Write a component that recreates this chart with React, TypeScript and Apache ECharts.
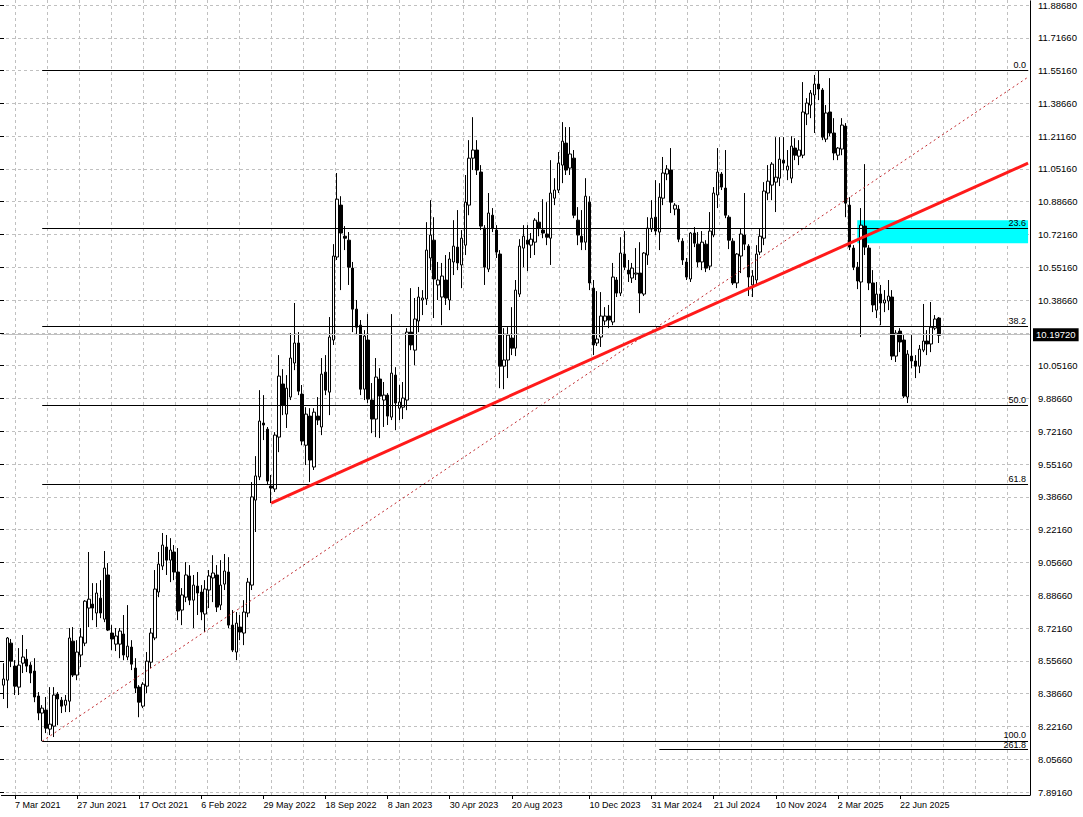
import React, { useEffect, useRef } from "react";
import * as echarts from "echarts";

// ---- weekly OHLC (oldest -> newest) ----
const OPEN = [
  8.431, 8.456, 8.643, 8.527, 8.421, 8.542, 8.562, 8.532, 8.502, 8.376,
  8.290, 8.305, 8.209, 8.224, 8.386, 8.355, 8.330, 8.350, 8.653, 8.482,
  8.583, 8.643, 8.820, 8.840, 8.795, 8.870, 8.764, 8.987, 8.694, 8.638,
  8.638, 8.689, 8.573, 8.623, 8.517, 8.421, 8.325, 8.426, 8.547, 8.669,
  8.901, 9.032, 9.128, 9.062, 9.103, 9.002, 8.810, 8.875, 8.982, 8.860,
  8.931, 8.901, 8.790, 8.911, 8.972, 8.987, 8.835, 8.941, 9.002, 8.734,
  8.598, 8.724, 8.694, 8.795, 8.936, 9.365, 9.482, 9.754, 9.723, 9.436,
  9.421, 9.683, 9.951, 9.799, 9.885, 10.057, 10.158, 9.900, 9.642, 9.789,
  9.532, 9.789, 9.734, 10.011, 9.910, 10.173, 10.592, 10.854, 10.697, 10.677,
  10.536, 10.329, 10.248, 9.925, 10.173, 9.870, 9.774, 9.976, 9.870, 9.895,
  9.784, 9.996, 9.829, 9.834, 9.870, 10.213, 10.122, 10.269, 10.375, 10.380,
  10.587, 10.677, 10.451, 10.390, 10.476, 10.375, 10.567, 10.642, 10.552, 10.652,
  10.854, 11.091, 11.132, 11.021, 10.738, 10.531, 10.803, 10.728, 10.607, 10.041,
  10.072, 10.183, 10.132, 10.405, 10.637, 10.677, 10.652, 10.667, 10.768, 10.728,
  10.708, 10.687, 10.889, 10.930, 11.056, 11.167, 11.041, 11.091, 10.778, 10.697,
  10.667, 10.869, 10.435, 10.158, 10.188, 10.269, 10.294, 10.264, 10.476, 10.410,
  10.607, 10.526, 10.486, 10.506, 10.511, 10.405, 10.602, 10.733, 10.793, 10.718,
  10.889, 11.011, 11.031, 10.834, 10.834, 10.672, 10.567, 10.481, 10.713, 10.657,
  10.567, 10.657, 10.546, 10.703, 10.905, 11.011, 10.940, 10.793, 10.672, 10.461,
  10.597, 10.703, 10.647, 10.451, 10.476, 10.617, 10.687, 10.915, 10.955, 10.970,
  10.990, 11.081, 11.031, 10.990, 11.142, 11.101, 11.106, 11.314, 11.359, 11.410,
  11.465, 11.435, 11.187, 11.324, 11.218, 11.106, 11.137, 11.253, 10.854, 10.637,
  10.541, 10.466, 10.748, 10.637, 10.461, 10.324, 10.405, 10.360, 10.370, 10.390,
  10.092, 10.218, 10.173, 9.885, 10.092, 10.067, 10.041, 10.122, 10.168, 10.153,
  10.233, 10.284,
];
const CLOSE = [
  8.462, 8.669, 8.552, 8.426, 8.532, 8.573, 8.527, 8.492, 8.371, 8.290,
  8.315, 8.214, 8.234, 8.381, 8.361, 8.325, 8.355, 8.669, 8.482, 8.598,
  8.674, 8.855, 8.865, 8.820, 8.896, 8.795, 9.022, 8.709, 8.664, 8.679,
  8.704, 8.583, 8.628, 8.537, 8.416, 8.345, 8.436, 8.552, 8.694, 8.916,
  9.042, 9.138, 9.062, 9.113, 9.002, 8.805, 8.886, 8.987, 8.860, 8.936,
  8.896, 8.800, 8.916, 8.982, 8.997, 8.825, 8.936, 9.007, 8.734, 8.608,
  8.744, 8.699, 8.800, 8.951, 9.381, 9.487, 9.764, 9.744, 9.461, 9.426,
  9.693, 9.991, 9.845, 9.930, 10.082, 10.158, 9.915, 9.663, 9.799, 9.567,
  9.809, 9.769, 10.001, 9.920, 10.188, 10.597, 10.884, 10.713, 10.687, 10.541,
  10.329, 10.238, 9.925, 10.193, 9.875, 9.774, 9.986, 9.890, 9.895, 9.789,
  10.006, 9.855, 9.860, 9.880, 10.213, 10.148, 10.279, 10.390, 10.385, 10.627,
  10.703, 10.481, 10.476, 10.496, 10.385, 10.582, 10.647, 10.562, 10.687, 10.869,
  11.091, 11.132, 11.031, 10.748, 10.541, 10.814, 10.738, 10.617, 10.041, 10.072,
  10.198, 10.132, 10.425, 10.647, 10.697, 10.657, 10.682, 10.778, 10.738, 10.713,
  10.692, 10.915, 10.930, 11.066, 11.177, 11.031, 11.112, 10.803, 10.703, 10.667,
  10.899, 10.461, 10.148, 10.178, 10.294, 10.294, 10.274, 10.491, 10.410, 10.612,
  10.541, 10.506, 10.536, 10.511, 10.410, 10.612, 10.738, 10.788, 10.723, 10.894,
  11.016, 11.036, 10.869, 10.854, 10.682, 10.577, 10.491, 10.713, 10.662, 10.567,
  10.667, 10.536, 10.723, 10.915, 11.021, 10.945, 10.803, 10.677, 10.461, 10.607,
  10.708, 10.657, 10.491, 10.496, 10.607, 10.697, 10.925, 10.975, 11.061, 10.995,
  11.086, 11.066, 11.051, 11.152, 11.106, 11.132, 11.324, 11.369, 11.420, 11.465,
  11.440, 11.197, 11.319, 11.218, 11.117, 11.142, 11.258, 10.864, 10.642, 10.541,
  10.471, 10.753, 10.642, 10.461, 10.350, 10.405, 10.360, 10.375, 10.395, 10.092,
  10.208, 10.163, 9.890, 10.102, 10.067, 10.041, 10.127, 10.168, 10.153, 10.238,
  10.279, 10.1972,
];
const HIGH = [
  8.542, 8.674, 8.664, 8.557, 8.618, 8.684, 8.613, 8.547, 8.567, 8.396,
  8.330, 8.371, 8.421, 8.421, 8.396, 8.371, 8.381, 8.719, 8.724, 8.658,
  8.719, 8.860, 9.103, 8.946, 8.946, 8.961, 9.108, 9.047, 8.734, 8.719,
  8.719, 8.785, 8.835, 8.658, 8.567, 8.431, 8.446, 8.598, 8.719, 9.012,
  9.103, 9.199, 9.189, 9.173, 9.138, 9.123, 8.921, 9.052, 9.037, 8.987,
  9.002, 8.936, 8.961, 9.012, 9.087, 9.037, 9.062, 9.093, 9.077, 8.810,
  8.800, 8.785, 8.860, 8.972, 9.456, 9.587, 9.920, 9.895, 9.734, 9.492,
  9.708, 10.097, 10.026, 9.996, 10.208, 10.360, 10.213, 9.946, 9.834, 9.829,
  9.829, 9.885, 10.082, 10.097, 10.289, 10.657, 11.016, 10.899, 10.748, 10.718,
  10.567, 10.375, 10.274, 10.223, 10.304, 9.956, 10.082, 10.031, 9.961, 9.905,
  10.304, 10.036, 9.946, 9.961, 10.233, 10.435, 10.385, 10.441, 10.425, 10.768,
  10.879, 10.793, 10.567, 10.562, 10.602, 10.617, 10.778, 10.829, 10.728, 11.006,
  11.182, 11.298, 11.182, 11.056, 10.753, 10.915, 10.839, 10.753, 10.627, 10.233,
  10.238, 10.339, 10.476, 10.682, 10.753, 10.753, 10.713, 10.788, 10.819, 10.884,
  10.869, 11.081, 10.990, 11.122, 11.273, 11.248, 11.248, 11.132, 10.844, 10.829,
  10.990, 10.899, 10.476, 10.420, 10.415, 10.339, 10.350, 10.562, 10.491, 10.692,
  10.723, 10.577, 10.562, 10.637, 10.667, 10.617, 10.793, 10.879, 10.980, 10.965,
  11.097, 11.056, 11.142, 10.864, 10.854, 10.687, 10.587, 10.718, 10.743, 10.718,
  10.723, 10.677, 10.819, 10.945, 11.142, 11.021, 11.132, 10.803, 10.687, 10.612,
  10.738, 10.915, 10.657, 10.526, 10.652, 10.738, 10.970, 11.056, 11.071, 11.197,
  11.197, 11.197, 11.132, 11.202, 11.192, 11.182, 11.475, 11.394, 11.435, 11.511,
  11.536, 11.445, 11.359, 11.495, 11.293, 11.147, 11.293, 11.268, 10.894, 10.652,
  10.567, 10.839, 11.061, 10.652, 10.526, 10.466, 10.451, 10.425, 10.476, 10.425,
  10.223, 10.233, 10.198, 10.122, 10.198, 10.097, 10.148, 10.355, 10.223, 10.365,
  10.299, 10.289,
];
const LOW = [
  8.361, 8.315, 8.522, 8.381, 8.381, 8.492, 8.497, 8.441, 8.345, 8.254,
  8.148, 8.189, 8.179, 8.169, 8.229, 8.290, 8.295, 8.295, 8.472, 8.456,
  8.522, 8.628, 8.724, 8.759, 8.724, 8.769, 8.749, 8.704, 8.608, 8.603,
  8.567, 8.557, 8.557, 8.507, 8.391, 8.269, 8.315, 8.391, 8.517, 8.658,
  8.875, 9.012, 8.987, 8.951, 8.961, 8.759, 8.734, 8.850, 8.835, 8.719,
  8.785, 8.759, 8.699, 8.820, 8.850, 8.800, 8.810, 8.911, 8.719, 8.598,
  8.557, 8.658, 8.633, 8.774, 8.911, 9.204, 9.466, 9.668, 9.441, 9.350,
  9.406, 9.607, 9.794, 9.729, 9.870, 10.021, 9.895, 9.642, 9.542, 9.456,
  9.517, 9.744, 9.693, 9.895, 9.794, 10.148, 10.577, 10.425, 10.627, 10.451,
  10.213, 10.198, 9.895, 9.870, 9.855, 9.703, 9.683, 9.678, 9.734, 9.744,
  9.769, 9.718, 9.769, 9.774, 9.819, 10.122, 10.046, 10.213, 10.299, 10.350,
  10.526, 10.284, 10.375, 10.248, 10.350, 10.324, 10.501, 10.526, 10.435, 10.602,
  10.803, 11.031, 11.006, 10.728, 10.451, 10.516, 10.718, 10.587, 9.930, 9.925,
  9.981, 10.097, 10.092, 10.390, 10.541, 10.521, 10.587, 10.602, 10.697, 10.687,
  10.652, 10.552, 10.854, 10.915, 10.965, 11.006, 11.006, 10.788, 10.652, 10.627,
  10.627, 10.425, 10.097, 10.143, 10.138, 10.248, 10.233, 10.248, 10.390, 10.395,
  10.526, 10.466, 10.461, 10.476, 10.309, 10.395, 10.552, 10.718, 10.703, 10.627,
  10.854, 10.980, 10.814, 10.803, 10.667, 10.552, 10.476, 10.466, 10.642, 10.541,
  10.526, 10.516, 10.526, 10.692, 10.839, 10.930, 10.788, 10.632, 10.451, 10.435,
  10.511, 10.627, 10.395, 10.390, 10.451, 10.602, 10.652, 10.879, 10.879, 10.819,
  10.950, 11.031, 10.980, 10.965, 11.081, 11.056, 11.091, 11.258, 11.293, 11.218,
  11.384, 11.182, 11.172, 11.202, 11.081, 11.081, 11.106, 10.793, 10.627, 10.526,
  10.430, 10.188, 10.602, 10.425, 10.314, 10.284, 10.248, 10.314, 10.324, 10.072,
  10.062, 10.112, 9.880, 9.855, 10.031, 9.981, 10.006, 10.112, 10.097, 10.112,
  10.223, 10.158,
];

// empty weekly slots kept to the right of the last bar (chart shift)
const FUTURE_BARS = 23;
const FIRST_WEEK = "2021-02-14";
const MONTHS = ["Jan", "Feb", "Mar", "Apr", "May", "Jun", "Jul", "Aug", "Sep", "Oct", "Nov", "Dec"];

// time-axis labels: bar index -> text
const TIME_TICK_INDEX = [3, 19, 35, 51, 67, 83, 99, 115, 131, 151, 167, 183, 199, 215, 231];
const TIME_TICK_TEXT = [
  "7 Mar 2021", "27 Jun 2021", "17 Oct 2021", "6 Feb 2022", "29 May 2022", "18 Sep 2022",
  "8 Jan 2023", "30 Apr 2023", "20 Aug 2023", "10 Dec 2023", "31 Mar 2024", "21 Jul 2024",
  "10 Nov 2024", "2 Mar 2025", "22 Jun 2025",
];

// price-scale labels, bottom to top
const PRICE_TICKS = [
  "7.89160", "8.05660", "8.22160", "8.38660", "8.55660", "8.72160", "8.88660", "9.05660",
  "9.22160", "9.38660", "9.55160", "9.72160", "9.88660", "10.05160", "10.22160", "10.38660",
  "10.55160", "10.72160", "10.88660", "11.05160", "11.21160", "11.38660", "11.55160",
  "11.71660", "11.88680",
];
const PRICE_BASE = 7.8916;
const PRICE_STEP = 3.66 / 22;

// Fibonacci retracement
const FIB_NAMES = ["0.0", "23.6", "38.2", "50.0", "61.8", "100.0"];
const FIB_PRICES = [11.536, 10.738, 10.243, 9.845, 9.446, 8.148];
const FIB_START_BAR = 10;
const EXT_NAME = "261.8";
const EXT_PRICE = 8.108;
const EXT_START_BAR = 169;

// trend lines [bar, price]
const TREND_SOLID = [[69, 9.35], [264, 11.066]];
const TREND_DOTTED = [[10, 8.148], [264, 11.5]];

// supply zone
const ZONE_START_BAR = 220;
const ZONE_TOP = 10.778;
const ZONE_BOTTOM = 10.662;

const BID = 10.1972;

const FONT = "'Liberation Sans', Arial, sans-serif";

export default function App() {
  const ref = useRef<HTMLDivElement>(null);

  useEffect(() => {
    if (!ref.current) return;
    const chart = echarts.init(ref.current, null, { renderer: "svg" });

    const n = OPEN.length + FUTURE_BARS;
    const t0 = Date.parse(FIRST_WEEK + "T00:00:00Z");
    const categories = Array.from({ length: n }, (_, i) => {
      const d = new Date(t0 + i * 7 * 86400000);
      return `${d.getUTCDate()} ${MONTHS[d.getUTCMonth()]} ${d.getUTCFullYear()}`;
    });
    const tickMap = new Map<number, string>();
    TIME_TICK_INDEX.forEach((idx, k) => tickMap.set(idx, TIME_TICK_TEXT[k]));

    const candles = OPEN.map((o, i) => [o, CLOSE[i], LOW[i], HIGH[i]]);

    const W = 1083;
    const H = 817;
    const plotRight = 53;
    const plotTop = 1;
    const plotBottom = 22; // axis line at y = 795
    const labelBottom = 25; // first price label at y = 792
    const nTicks = PRICE_TICKS.length - 1;
    const pxPerPrice = (H - plotTop - labelBottom) / (nTicks * PRICE_STEP);
    const pMax = PRICE_BASE + nTicks * PRICE_STEP;
    const pMin = pMax - (H - plotTop - plotBottom) / pxPerPrice;
    const vGridLeft = 15;
    const vGridStep = 32;

    const last = n - 1;
    const fibLines: any[] = FIB_NAMES.map((name, i) => [
      {
        coord: [FIB_START_BAR, FIB_PRICES[i]],
        name,
        label: { formatter: name, distance: name === "100.0" ? [2, 2] : [2, 1] },
      },
      { coord: [last, FIB_PRICES[i]] },
    ]);
    fibLines.push([
      { coord: [EXT_START_BAR, EXT_PRICE], name: EXT_NAME, label: { formatter: EXT_NAME, distance: [2, 0] } },
      { coord: [last, EXT_PRICE] },
    ]);

    const option: any = {
      animation: false,
      backgroundColor: "#ffffff",
      grid: [
        { left: 1.44, right: plotRight, top: plotTop, bottom: plotBottom },
        { left: 0, right: plotRight, top: plotTop, bottom: labelBottom },
        { left: vGridLeft, right: plotRight, top: 0, bottom: plotBottom },
      ],
      xAxis: [
        {
          type: "category",
          gridIndex: 0,
          data: categories,
          boundaryGap: true,
          axisLine: { show: true, lineStyle: { color: "#000", width: 1 } },
          axisTick: {
            show: true,
            alignWithLabel: true,
            length: 4,
            interval: (i: number) => tickMap.has(i),
            lineStyle: { color: "#000" },
          },
          axisLabel: {
            show: true,
            interval: (i: number) => tickMap.has(i),
            formatter: (_v: string, i: number) => tickMap.get(i) ?? "",
            align: "left",
            margin: 5,
            color: "#000",
            fontSize: 9,
            fontFamily: FONT,
          },
          splitLine: { show: false },
        },
        { type: "value", gridIndex: 1, show: false, min: 0, max: 1 },
        {
          type: "value",
          gridIndex: 2,
          min: 0,
          max: (W - plotRight - vGridLeft) / vGridStep,
          interval: 1,
          axisLine: { show: false },
          axisTick: { show: false },
          axisLabel: { show: false },
          splitLine: { show: true, lineStyle: { color: "#c0c0c0", type: [3, 3], width: 1 } },
        },
      ],
      yAxis: [
        {
          type: "value",
          gridIndex: 0,
          position: "right",
          min: pMin,
          max: pMax,
          axisLine: { show: true, lineStyle: { color: "#000", width: 1 } },
          axisTick: { show: false },
          axisLabel: { show: false },
          splitLine: { show: false },
        },
        {
          type: "value",
          gridIndex: 1,
          position: "right",
          min: 0,
          max: nTicks,
          interval: 1,
          axisLine: { show: false },
          axisTick: { show: true, length: 4, lineStyle: { color: "#000" } },
          axisLabel: {
            show: true,
            margin: 8,
            formatter: (v: number) => PRICE_TICKS[Math.round(v)] ?? "",
            color: "#000",
            fontSize: 9.5,
            fontFamily: FONT,
          },
          splitLine: { show: true, lineStyle: { color: "#c0c0c0", type: [3, 3], width: 1 } },
        },
        { type: "value", gridIndex: 2, show: false, min: 0, max: 1 },
      ],
      series: [
        {
          type: "line",
          xAxisIndex: 0,
          yAxisIndex: 0,
          data: [],
          z: 1,
          silent: true,
          markArea: {
            silent: true,
            itemStyle: { color: "#00ffff", opacity: 1 },
            data: [[{ coord: [ZONE_START_BAR, ZONE_TOP] }, { coord: [last, ZONE_BOTTOM] }]],
          },
          markLine: {
            silent: true,
            symbol: ["none", "none"],
            lineStyle: { color: "#c0c0c0", type: "solid", width: 1 },
            label: {
              show: true,
              position: "end",
              distance: 3,
              formatter: BID.toFixed(5),
              backgroundColor: "#000",
              color: "#fff",
              padding: [2, 3, 1, 3],
              fontSize: 9.5,
              fontFamily: FONT,
            },
            data: [{ yAxis: BID }],
          },
        },
        {
          type: "candlestick",
          xAxisIndex: 0,
          yAxisIndex: 0,
          data: candles,
          z: 3,
          barWidth: 3,
          silent: true,
          itemStyle: {
            color: "#ffffff",
            color0: "#000000",
            borderColor: "#000000",
            borderColor0: "#000000",
            borderWidth: 1,
          },
          markLine: {
            silent: true,
            symbol: ["none", "none"],
            lineStyle: { color: "#000", type: "solid", width: 1 },
            label: {
              show: true,
              position: "insideEndTop",
              color: "#000",
              fontSize: 9,
              lineHeight: 9,
              fontFamily: FONT,
            },
            data: fibLines,
          },
        },
        {
          type: "line",
          xAxisIndex: 0,
          yAxisIndex: 0,
          data: TREND_DOTTED,
          z: 4,
          silent: true,
          symbol: "none",
          lineStyle: { color: "#c0282d", width: 1, type: [2, 3] },
        },
        {
          type: "line",
          xAxisIndex: 0,
          yAxisIndex: 0,
          data: TREND_SOLID,
          z: 5,
          silent: true,
          symbol: "none",
          lineStyle: { color: "#ff1a1a", width: 3 },
        },
      ],
    };

    chart.setOption(option);
    return () => chart.dispose();
  }, []);

  return (
    <div
      ref={ref}
      style={{ position: "fixed", left: 0, top: 0, width: 1083, height: 817, background: "#fff" }}
    />
  );
}
